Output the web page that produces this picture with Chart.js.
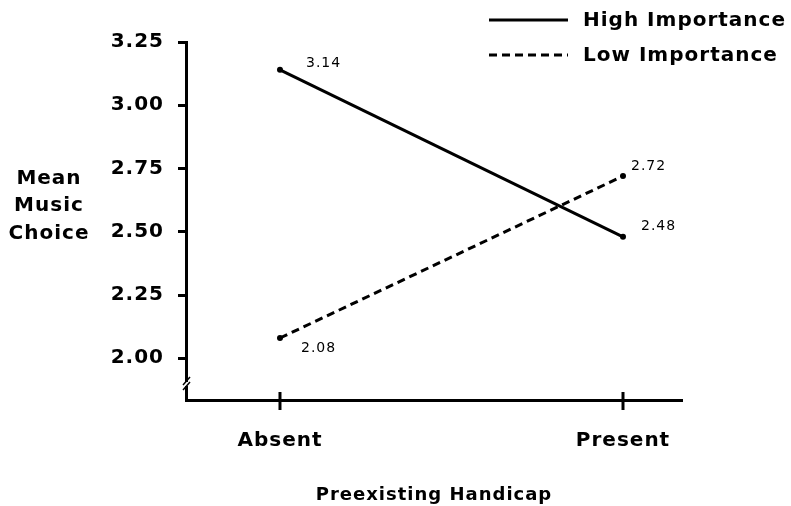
<!DOCTYPE html>
<html><head><meta charset="utf-8">
<script src="https://cdn.jsdelivr.net/npm/chart.js@4"></script>
<style>html,body{margin:0;padding:0;background:#fff}canvas{display:block}</style>
</head><body>
<canvas id="c" width="791" height="506"></canvas>
<script>
const categories = ['Absent', 'Present'];
const seriesNames = ['High Importance', 'Low Importance'];
const highValues = [3.14, 2.48];
const lowValues = [2.08, 2.72];
const yTickValues = [2.00, 2.25, 2.50, 2.75, 3.00, 3.25];
const yTitleLines = ['Mean', 'Music', 'Choice'];
const xTitle = 'Preexisting Handicap';

const FONT = 'DejaVu Sans';
const labelOffsets = [[[26, -6], [18, -10]], [[21, 10], [8, -10]]];

const toPoints = vals => vals.map((v, i) => ({x: i, y: v}));

const decor = {
  id: 'decor',
  beforeUpdate(chart) { chart.ctx.letterSpacing = '1px'; },
  beforeDraw(chart) { chart.ctx.letterSpacing = '1px'; },
  afterDraw(chart) {
    const ctx = chart.ctx;
    const xs = chart.scales.x, ys = chart.scales.y;
    ctx.save();
    ctx.strokeStyle = '#000';
    ctx.fillStyle = '#000';
    // x ticks crossing the axis
    ctx.lineWidth = 3;
    const axisY = ys.bottom;
    categories.forEach((c, i) => {
      const px = xs.getPixelForValue(i);
      ctx.beginPath();
      ctx.moveTo(px, axisY - 8);
      ctx.lineTo(px, axisY + 10);
      ctx.stroke();
    });
    // axis break
    const bx = ys.right;
    ctx.fillStyle = '#fff';
    ctx.fillRect(bx - 4, axisY - 18, 8, 4);
    ctx.strokeStyle = '#000';
    ctx.lineWidth = 1.5;
    [-19, -14].forEach(dy => {
      ctx.beginPath();
      ctx.moveTo(bx - 3, axisY + dy + 4);
      ctx.lineTo(bx + 4, axisY + dy - 4);
      ctx.stroke();
    });
    // y title (horizontal, three lines)
    ctx.fillStyle = '#000';
    ctx.letterSpacing = '1px';
    ctx.font = 'bold 20px "' + FONT + '"';
    ctx.textAlign = 'center';
    ctx.textBaseline = 'middle';
    const midY = (ys.getPixelForValue(2.75) + ys.getPixelForValue(2.5)) / 2 + 6;
    yTitleLines.forEach((t, i) => ctx.fillText(t, 49, midY + (i - 1) * 27.5));
    // legend
    ctx.textAlign = 'left';
    ctx.font = 'bold 20px "' + FONT + '"';
    chart.data.datasets.forEach((ds, i) => {
      const ly = 20 + i * 35;
      ctx.lineWidth = 3;
      ctx.setLineDash(ds.borderDash || []);
      ctx.beginPath();
      ctx.moveTo(489, ly);
      ctx.lineTo(568, ly);
      ctx.stroke();
      ctx.setLineDash([]);
      ctx.fillText(ds.label, 583, ly + 1);
    });
    // data labels
    ctx.letterSpacing = '1px';
    ctx.font = '14px "' + FONT + '"';
    chart.data.datasets.forEach((ds, di) => {
      const meta = chart.getDatasetMeta(di);
      meta.data.forEach((pt, pi) => {
        const off = labelOffsets[di][pi];
        ctx.fillText(ds.data[pi].y.toFixed(2), pt.x + off[0], pt.y + off[1]);
      });
    });
    ctx.restore();
  }
};

new Chart(document.getElementById('c'), {
  type: 'line',
  data: {
    datasets: [
      {label: seriesNames[0], data: toPoints(highValues), borderColor: '#000', borderWidth: 3,
       pointRadius: 3, pointBackgroundColor: '#000', pointBorderWidth: 0, borderDash: []},
      {label: seriesNames[1], data: toPoints(lowValues), borderColor: '#000', borderWidth: 3,
       pointRadius: 3, pointBackgroundColor: '#000', pointBorderWidth: 0, borderDash: [8, 5]}
    ]
  },
  options: {
    responsive: false,
    animation: false,
    devicePixelRatio: 1,
    layout: {padding: {left: 0, top: 42, right: 109, bottom: 0}},
    plugins: {legend: {display: false}, tooltip: {enabled: false}},
    scales: {
      y: {
        type: 'linear', min: 1.835, max: 3.25,
        afterBuildTicks: s => { s.ticks = yTickValues.map(v => ({value: v})); },
        afterFit: s => { s.width = 186; },
        ticks: {font: {family: FONT, size: 20, weight: 'bold'}, color: '#000', padding: 14,
                callback: v => Number(v).toFixed(2)},
        grid: {drawOnChartArea: false, drawTicks: true, tickLength: 8, color: '#000', lineWidth: 3},
        border: {display: true, color: '#000', width: 3}
      },
      x: {
        type: 'linear', min: -0.274, max: 1.172,
        afterBuildTicks: s => { s.ticks = categories.map((c, i) => ({value: i})); },
        afterFit: s => { s.height = 106; },
        ticks: {font: {family: FONT, size: 20, weight: 'bold'}, color: '#000', padding: 29,
                autoSkip: false, maxRotation: 0, callback: v => categories[v]},
        grid: {display: false, drawTicks: false},
        border: {display: true, color: '#000', width: 3},
        title: {display: true, text: xTitle, color: '#000', font: {family: FONT, size: 18, weight: 'bold'},
                padding: {top: 0, bottom: 0}}
      }
    }
  },
  plugins: [decor]
});
</script>
</body></html>
